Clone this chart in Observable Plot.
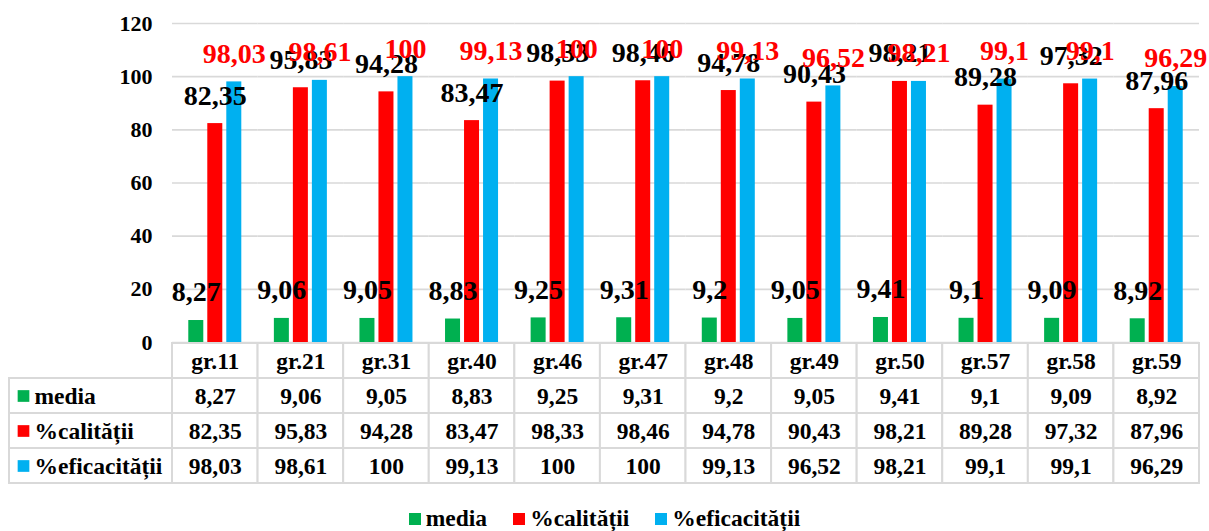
<!DOCTYPE html>
<html>
<head>
<meta charset="utf-8">
<script src="https://cdn.jsdelivr.net/npm/d3@7"></script>
<script src="https://cdn.jsdelivr.net/npm/@observablehq/plot@0.6"></script>
</head>
<body style="margin:0;padding:0;background:#fff">
<div id="root" style="position:relative;width:1209px;height:531px;overflow:hidden;font-family:'Liberation Serif';font-weight:bold">
  <div id="chart" style="position:absolute;left:0;top:0"></div>
  <div id="table" style="position:absolute;left:0;top:342px"></div>
  <div id="labels" style="position:absolute;left:0;top:342px"></div>
  <div id="legend" style="position:absolute;left:0;top:502px;width:1209px;display:flex;justify-content:center"></div>
</div>
<script>
const groups = ["gr.11","gr.21","gr.31","gr.40","gr.46","gr.47","gr.48","gr.49","gr.50","gr.57","gr.58","gr.59"];
const media = [8.27, 9.06, 9.05, 8.83, 9.25, 9.31, 9.2, 9.05, 9.41, 9.1, 9.09, 8.92];
const calitatii = [82.35, 95.83, 94.28, 83.47, 98.33, 98.46, 94.78, 90.43, 98.21, 89.28, 97.32, 87.96];
const eficacitatii = [98.03, 98.61, 100, 99.13, 100, 100, 99.13, 96.52, 98.21, 99.1, 99.1, 96.29];
const seriesNames = ["media", "%calității", "%eficacității"];
const seriesColors = ["#00b050", "#ff0000", "#00b0f0"];
const labelColors = ["#000000", "#000000", "#ff0000"];
const yTicks = [0, 20, 40, 60, 80, 100, 120];
const headerRow = "header";

const seriesValues = [media, calitatii, eficacitatii];
const fmt = v => String(v).replace(".", ",");
const FONT = "Liberation Serif";
const STYLE = "font-family:'Liberation Serif';font-size:22px;font-weight:bold;color:#000;background:transparent;overflow:visible";
const TABLE_FS = 23.5;

const long = [];
seriesNames.forEach((s, si) => {
  groups.forEach((g, gi) => long.push({group: g, series: s, value: seriesValues[si][gi]}));
});

const chart = Plot.plot({
  width: 1209,
  height: 344,
  marginTop: 23,
  marginBottom: 2,
  marginLeft: 172,
  marginRight: 10,
  style: STYLE,
  fx: {domain: groups, padding: 0, round: false, axis: null, label: null},
  x: {domain: seriesNames, paddingInner: 4 / 19, paddingOuter: 0.857, round: false, axis: null, label: null},
  y: {domain: [0, 120], ticks: yTicks, tickSize: 0, tickPadding: 20, label: null, tickFormat: d => String(d)},
  color: {domain: seriesNames, range: seriesColors},
  marks: [
    Plot.ruleY(yTicks, {stroke: "#d9d9d9", strokeWidth: 1.6}),
    Plot.barY(long, {fx: "group", x: "series", y: "value", fill: "series"}),
    ...seriesNames.map((s, si) =>
      Plot.text(long.filter(d => d.series === s), {
        fx: "group", x: "series", y: "value",
        text: d => fmt(d.value),
        dy: -28, fill: labelColors[si], fontSize: 28, fontWeight: "bold", fontFamily: FONT
      })
    )
  ]
});
document.getElementById("chart").appendChild(chart);

const rowKeys = [headerRow, ...seriesNames];
const tableData = [];
groups.forEach((g, gi) => {
  tableData.push({group: g, row: headerRow, text: g});
  seriesNames.forEach((s, si) => tableData.push({group: g, row: s, text: fmt(seriesValues[si][gi])}));
});

const table = Plot.plot({
  width: 1209,
  height: 143,
  marginTop: 1,
  marginBottom: 2,
  marginLeft: 172,
  marginRight: 10,
  style: STYLE,
  x: {domain: groups, padding: 0, round: false, axis: null},
  y: {domain: rowKeys, padding: 0, round: false, axis: null},
  marks: [
    Plot.cell(tableData, {x: "group", y: "row", fill: "white", stroke: "#d9d9d9", strokeWidth: 2}),
    Plot.text(tableData, {x: "group", y: "row", text: "text", fontSize: TABLE_FS, fontWeight: "bold", fontFamily: FONT, fill: "#000"})
  ]
});
document.getElementById("table").appendChild(table);

const labelRows = seriesNames.map(s => ({row: s, name: s}));
const labels = Plot.plot({
  width: 173,
  height: 143,
  marginTop: 1,
  marginBottom: 2,
  marginLeft: 9,
  marginRight: 1,
  style: STYLE,
  y: {domain: rowKeys, padding: 0, round: false, axis: null},
  color: {domain: seriesNames, range: seriesColors},
  marks: [
    Plot.cell(labelRows, {y: "row", fill: "white", stroke: "#d9d9d9", strokeWidth: 2}),
    Plot.dot(labelRows, {y: "row", frameAnchor: "left", dx: 14, symbol: "square", r: 6.6, fill: "name", stroke: "none"}),
    Plot.text(labelRows, {y: "row", text: "name", frameAnchor: "left", dx: 25, textAnchor: "start", fontSize: TABLE_FS, fontWeight: "bold", fontFamily: FONT, fill: "#000"})
  ]
});
document.getElementById("labels").appendChild(labels);

const legend = Plot.legend({
  color: {domain: seriesNames, range: seriesColors},
  swatchSize: 12,
  style: "font-family:'Liberation Serif';font-size:23.5px;font-weight:bold;color:#000;margin:0;display:flex;align-items:center;min-height:33px"
});
Array.from(legend.querySelectorAll("span")).forEach((s, i, arr) => {
  s.style.fontFamily = "'Liberation Serif'";
  s.style.display = "inline-flex";
  s.style.alignItems = "center";
  s.style.marginRight = i < arr.length - 1 ? "26px" : "0";
  const svg = s.querySelector("svg");
  if (svg) svg.style.marginRight = "5px";
});
document.getElementById("legend").appendChild(legend);
</script>
</body>
</html>
